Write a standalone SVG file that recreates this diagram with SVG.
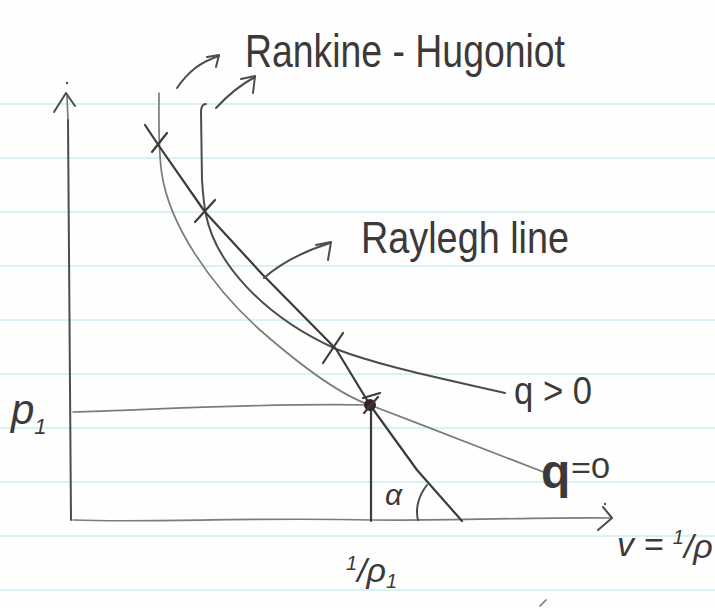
<svg xmlns="http://www.w3.org/2000/svg" width="715" height="608" viewBox="0 0 715 608">
  <style>
    .rule { stroke: #cbedf3; stroke-width: 1.6; fill: none; }
    .pen { fill: none; stroke: #4e4b4b; stroke-width: 2; stroke-linecap: round; stroke-linejoin: round; }
    .light { fill: none; stroke: #7d7b7b; stroke-width: 1.7; stroke-linecap: round; stroke-linejoin: round; }
    .dark { fill: none; stroke: #3e3a3a; stroke-width: 2.2; stroke-linecap: round; stroke-linejoin: round; }
    .hand { font-family: "Liberation Sans", "DejaVu Sans", sans-serif; fill: #3d3939; }
  </style>
  <rect x="0" y="0" width="715" height="608" fill="#fefefe"/>

  <g id="ruled-paper">
    <line class="rule" x1="0" y1="104" x2="715" y2="104"/>
    <line class="rule" x1="0" y1="158" x2="715" y2="158"/>
    <line class="rule" x1="0" y1="212" x2="715" y2="212"/>
    <line class="rule" x1="0" y1="266" x2="715" y2="266"/>
    <line class="rule" x1="0" y1="320" x2="715" y2="320"/>
    <line class="rule" x1="0" y1="374" x2="715" y2="374"/>
    <line class="rule" x1="0" y1="428" x2="715" y2="428"/>
    <line class="rule" x1="0" y1="482" x2="715" y2="482"/>
    <line class="rule" x1="0" y1="536" x2="715" y2="536"/>
    <line class="rule" x1="0" y1="590" x2="715" y2="590"/>
  </g>

  <g id="axes">
    <path class="light" d="M67,96 L68,120" stroke-width="1.2"/>
    <path class="pen" d="M68,120 L71,520"/>
    <path class="pen" d="M54,112 L66,93 L75,106"/>
    <circle cx="67" cy="83" r="1.2" fill="#555"/>
    <path class="light" d="M73,520 C150,523 250,517 372,520 C450,521 540,517 612,518" stroke-width="2"/>
    <path class="pen" d="M603,507 L612,518 L598,530"/>
    <circle cx="605" cy="504" r="1.2" fill="#555"/>
  </g>

  <g id="connectors">
    <!-- p1 horizontal line -->
    <path id="p1-line" class="light" d="M73,412 C150,410 250,403 370,405"/>
    <!-- vertical line at 1/rho1 -->
    <path id="v1-line" class="dark" d="M371,405 L371,521"/>
    <!-- Hugoniot q = 0 -->
    <path id="hugoniot-q0" class="light" d="M159,93 C159,120 158,150 162,175 C170,225 210,285 260,330 C300,365 340,395 370,405 C430,428 500,455 546,473"/>
    <!-- Hugoniot q > 0 -->
    <path id="hugoniot-qpos" class="pen" d="M206,104 Q201,104 201,112 L202,180 C203,195 204,205 206,215 C215,260 260,315 336,349 C380,366 440,378 505,393"/>
    <!-- Rayleigh line -->
    <path id="rayleigh" class="dark" d="M145,125 L159,146 L205,212 L262,274 L336,349 L370,405 L417,470 L462,521"/>
    <!-- crossing marks -->
    <path class="dark" d="M152,152 L167,133"/>
    <path class="dark" d="M195,222 L215,200"/>
    <path class="dark" d="M323,363 L343,333"/>
    <!-- state 1 point -->
    <circle cx="370" cy="405" r="6" fill="#3a2224"/>
    <path class="dark" d="M363,398 L380,393 M364,413 L378,397" stroke-width="1.5"/>
    <!-- alpha arc -->
    <path class="pen" d="M427,485 C419,495 415,508 418,520"/>
    <!-- label arrows -->
    <path class="pen" d="M177,88 C188,72 200,62 219,56"/>
    <path class="pen" d="M207,57 L219,55 L216,67"/>
    <path class="pen" d="M216,108 C228,95 240,85 255,77"/>
    <path class="pen" d="M241,79 L255,76 L253,93"/>
    <path class="pen" d="M264,278 C282,262 302,252 330,243"/>
    <path class="pen" d="M316,245 L331,242 L328,260"/>
    <path class="light" d="M540,606 L546,600" stroke-width="1.4"/>
  </g>

  <g id="label-rankine">
    <text class="hand" x="245" y="67" font-size="46" textLength="320" lengthAdjust="spacingAndGlyphs">Rankine - Hugoniot</text>
  </g>
  <g id="label-rayleigh">
    <text class="hand" x="361" y="253" font-size="44" textLength="208" lengthAdjust="spacingAndGlyphs">Raylegh line</text>
  </g>
  <g id="label-qpos">
    <text class="hand" x="514" y="404" font-size="38" textLength="78" lengthAdjust="spacingAndGlyphs">q &gt; 0</text>
  </g>
  <g id="label-q0">
    <text class="hand" x="541" y="488" font-size="48" font-weight="bold" fill="#2d1c1e">q</text>
    <text class="hand" x="571" y="478" font-size="30" textLength="39" lengthAdjust="spacingAndGlyphs">=0</text>
  </g>
  <g id="label-p1">
    <text class="hand" x="11" y="424" font-size="42" font-style="italic">p<tspan font-size="22" dy="10">1</tspan></text>
  </g>
  <g id="label-alpha">
    <text class="hand" x="385" y="505" font-size="30" font-style="italic">α</text>
  </g>
  <g id="label-v1">
    <text class="hand" x="346" y="582" font-size="34" font-style="italic"><tspan font-size="20" dy="-12">1</tspan><tspan dy="12">/ρ</tspan><tspan font-size="20" dy="6">1</tspan></text>
  </g>
  <g id="label-v">
    <text class="hand" x="617" y="556" font-size="34" font-style="italic">v = <tspan font-size="20" dy="-12">1</tspan><tspan dy="14">/ρ</tspan></text>
  </g>
</svg>
